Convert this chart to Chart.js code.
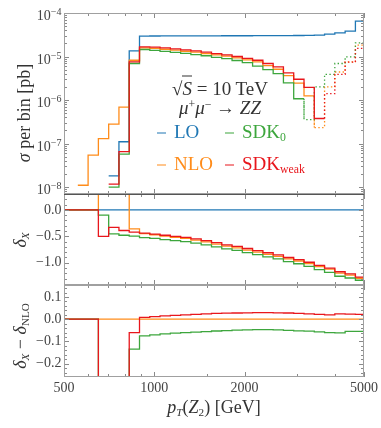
<!DOCTYPE html>
<html>
<head>
<meta charset="utf-8">
<title>pT(Z2) distribution</title>
<script src="https://cdn.jsdelivr.net/npm/chart.js@4.4.1/dist/chart.umd.min.js"></script>
<style>
  body { margin: 0; background: #fff; }
  #wrap { position: relative; width: 381px; height: 428px; overflow: hidden;
          font-family: "Liberation Serif", "DejaVu Serif", serif; color: #333; }
  #wrap canvas { position: absolute; left: 0; top: 0; }
  .t { position: absolute; white-space: nowrap; line-height: 1; transform: translate(-50%, -50%); }
  .r { transform: translate(-50%, -50%) rotate(-90deg); }
  .leg { position: absolute; white-space: nowrap; line-height: 1; font-size: 19px; transform: translateY(-50%); }
  .dash { display: inline-block; width: 9px; height: 1.6px; vertical-align: middle; margin-right: 8px; }
  .ov { border-top: 1.2px solid #333; padding-top: 1px; }
  sub { font-size: 62%; vertical-align: -0.3em; line-height: 0; }
  sup { font-size: 62%; vertical-align: 0.5em; line-height: 0; }
</style>
</head>
<body>
<div id="wrap">
  <canvas id="cSigma" width="381" height="428"></canvas>
  <canvas id="cDelta" width="381" height="428"></canvas>
  <canvas id="cDiff" width="381" height="428"></canvas>

  <div class="t r" style="left:24px;top:113px;font-size:18px"><i>σ</i> per bin [pb]</div>
  <div class="t r" style="left:20px;top:240px;font-size:18px"><i>δ</i><sub><i>X</i></sub></div>
  <div class="t r" style="left:20px;top:336px;font-size:18px"><i>δ</i><sub><i>X</i></sub> − <i>δ</i><sub>NLO</sub></div>
  <div class="t" style="left:214px;top:407px;font-size:18px"><i>p</i><sub><i>T</i></sub>(<i>Z</i><sub>2</sub>) [GeV]</div>

  <div class="t" style="left:220px;top:88px;font-size:19px">√<span class="ov"><i>S</i></span> = 10 TeV</div>
  <div class="t" style="left:220px;top:107px;font-size:19px"><i>μ</i><sup>+</sup><i>μ</i><sup>−</sup> → <i>ZZ</i></div>

  <div class="leg" style="left:157px;top:131px;color:#1f77b4"><span class="dash" style="background:#1f77b4"></span>LO</div>
  <div class="leg" style="left:225px;top:131px;color:#3da63d"><span class="dash" style="background:#3da63d"></span>SDK<sub>0</sub></div>
  <div class="leg" style="left:157px;top:163px;color:#ff8c1a"><span class="dash" style="background:#ff8c1a"></span>NLO</div>
  <div class="leg" style="left:225px;top:163px;color:#e8161c"><span class="dash" style="background:#e8161c"></span>SDK<sub>weak</sub></div>
</div>

<script>
// bin edges in pT(Z2) [GeV]
var binEdges = [474.8, 513.8, 556.0, 601.6, 651.0, 704.5, 762.3, 824.9, 892.6, 965.9,
  1045, 1131, 1224, 1324, 1433, 1551, 1678, 1816, 1965, 2126,
  2301, 2490, 2694, 2915, 3155, 3414, 3694, 3997, 4326, 4681, 5065];

// sigma per bin [pb], negative = drawn dotted as |value|
var sigmaLO = [0, 0, 0, 0, 0, 1.8e-8, 1.1e-7, 1.35e-5,
  2.95e-5, 2.96e-5, 2.97e-5, 2.97e-5, 2.98e-5, 2.98e-5, 2.99e-5, 2.99e-5, 3.0e-5, 3.0e-5, 3.0e-5,
  3.01e-5, 3.01e-5, 3.02e-5, 3.03e-5, 3.04e-5, 3.06e-5, 3.1e-5, 3.27e-5, 3.5e-5, 3.84e-5, 6.5e-5];
var sigmaNLO = [0, 0, 1.1e-8, 5.4e-8, 1.3e-7, 2.8e-7, 6.9e-7, 8.2e-6,
  1.58e-5, 1.54e-5, 1.47e-5, 1.40e-5, 1.32e-5, 1.26e-5, 1.17e-5, 1.09e-5, 1.02e-5, 9.3e-6, 8.4e-6,
  7.5e-6, 6.2e-6, 5.1e-6, 3.64e-6, 2.45e-6, 1.24e-6, -2.33e-7, -2.0e-6, -4.4e-6, -7.5e-6, -1.82e-5];
var sigmaSDK0 = [0, 0, 0, 0, 0, 1.0e-8, 5.7e-8, 6.9e-6,
  1.45e-5, 1.38e-5, 1.31e-5, 1.24e-5, 1.18e-5, 1.11e-5, 1.04e-5, 9.6e-6, 8.9e-6, 8.1e-6, 7.2e-6,
  6.0e-6, 5.0e-6, 4.05e-6, 2.48e-6, 1.07e-6, -3.56e-7, -2.0e-6, -3.9e-6, -6.9e-6, -9.8e-6, -2.06e-5];
var sigmaSDKweak = [0, 0, 0, 0, 0, 1.17e-8, 6.5e-8, 7.5e-6,
  1.67e-5, 1.64e-5, 1.58e-5, 1.50e-5, 1.42e-5, 1.35e-5, 1.26e-5, 1.17e-5, 1.09e-5, 1.0e-5, 9.1e-6,
  8.2e-6, 6.9e-6, 5.75e-6, 4.2e-6, 3.0e-6, 1.95e-6, 3.76e-7, -1.4e-6, -3.9e-6, -7.4e-6, -1.53e-5];

// relative corrections delta_X
var deltaLO = [0, 0, 0, 0, 0, 0, 0, 0, 0, 0, 0, 0, 0, 0, 0,
  0, 0, 0, 0, 0, 0, 0, 0, 0, 0, 0, 0, 0, 0, 0];
var deltaNLO = [0, 0, 0, 0, 20, 14.6, 5.3, -0.36,
  -0.45, -0.47, -0.495, -0.517, -0.54, -0.572, -0.604, -0.646, -0.687, -0.718, -0.759,
  -0.80, -0.84, -0.879, -0.928, -0.966, -1.014, -1.072, -1.12, -1.194, -1.233, -1.292];
var deltaSDK0 = [0, 0, 0, 0, -0.10, -0.455, -0.48, -0.495,
  -0.525, -0.54, -0.561, -0.58, -0.60, -0.63, -0.66, -0.699, -0.738, -0.767, -0.807,
  -0.847, -0.887, -0.927, -0.978, -1.018, -1.068, -1.129, -1.18, -1.255, -1.288, -1.33];
var deltaSDKweak = [0, 0, 0, 0, -0.50, -0.33, -0.39, -0.42,
  -0.44, -0.46, -0.48, -0.50, -0.52, -0.55, -0.58, -0.62, -0.66, -0.69, -0.73,
  -0.77, -0.81, -0.85, -0.90, -0.94, -0.99, -1.05, -1.10, -1.17, -1.21, -1.27];

// delta_X - delta_NLO
var diffNLO = [0, 0, 0, 0, 0, 0, 0, 0, 0, 0, 0, 0, 0, 0, 0,
  0, 0, 0, 0, 0, 0, 0, 0, 0, 0, 0, 0, 0, 0, 0];
var diffSDK0 = [0, 0, 0, 0, -20.1, -15.1, -5.8, -0.135,
  -0.075, -0.07, -0.066, -0.063, -0.06, -0.058, -0.056, -0.053, -0.051, -0.049, -0.048,
  -0.047, -0.047, -0.048, -0.05, -0.052, -0.054, -0.057, -0.06, -0.061, -0.055, -0.055];
var diffSDKweak = [0, 0, 0, 0, -20.5, -14.9, -5.7, -0.06,
  0.008, 0.012, 0.015, 0.017, 0.02, 0.022, 0.024, 0.026, 0.027, 0.028, 0.029,
  0.03, 0.03, 0.029, 0.028, 0.026, 0.024, 0.022, 0.02, 0.024, 0.023, 0.022];

// tick labels
var xTickLabels = [500, 1000, 2000, 5000];
var xMinorTicks = [600, 700, 800, 900, 1500, 3000, 4000];
var sigmaTicks = [1e-8, 1e-7, 1e-6, 1e-5, 1e-4];
var deltaTicks = [-1.0, -0.5, 0.0];
var diffTicks = [-0.2, -0.1, 0.0, 0.1];

var colors = { LO: '#1f77b4', NLO: '#ff8c1a', SDK0: '#3da63d', SDKweak: '#e8161c' };
// lower order is drawn on top: SDK_weak over SDK_0 over NLO over LO
var drawOrder = { LO: 4, NLO: 3, SDK0: 2, SDKweak: 1 };
var fontFam = '"Liberation Serif", "DejaVu Serif", serif';

function histPoints(vals, useAbs) {
  var pts = [];
  vals.forEach(function (v, i) {
    var y = useAbs ? Math.abs(v) : v;
    pts.push({ x: binEdges[i], y: y });
    pts.push({ x: binEdges[i + 1], y: y });
  });
  return pts;
}

// useAbs: log panel, negative bins shown as |value| with a dotted line
function histSet(vals, key, useAbs) {
  var ds = {
    data: histPoints(vals, useAbs),
    borderColor: colors[key],
    order: drawOrder[key],
    borderWidth: 1.3,
    pointRadius: 0,
    tension: 0,
    fill: false
  };
  if (useAbs) {
    ds.segment = {
      borderDash: function (ctx) {
        return vals[Math.floor(ctx.p1DataIndex / 2)] < 0 ? [1.4, 2.4] : undefined;
      }
    };
  }
  return ds;
}

function fmt(v) {
  return (v < 0 ? '\u2212' : '') + Math.abs(v).toFixed(1);
}

// frame + inward ticks, Mathematica style
var frameTicks = {
  id: 'frameTicks',
  afterDraw: function (chart, args, o) {
    var ctx = chart.ctx, a = chart.chartArea, x = chart.scales.x, y = chart.scales.y;
    ctx.save();
    ctx.strokeStyle = '#8a8a8a';
    ctx.lineWidth = 1;
    ctx.beginPath();
    function xt(v, len) {
      var px = Math.round(x.getPixelForValue(v)) + 0.5;
      ctx.moveTo(px, a.top); ctx.lineTo(px, a.top + len);
      ctx.moveTo(px, a.bottom); ctx.lineTo(px, a.bottom - len);
    }
    function yt(v, len) {
      var py = Math.round(y.getPixelForValue(v)) + 0.5;
      if (py < a.top || py > a.bottom) return;
      ctx.moveTo(a.left, py); ctx.lineTo(a.left + len, py);
      ctx.moveTo(a.right, py); ctx.lineTo(a.right - len, py);
    }
    xTickLabels.forEach(function (v) { xt(v, 5); });
    xMinorTicks.forEach(function (v) { xt(v, 3); });
    o.yMajor.forEach(function (v) { yt(v, 5); });
    o.yMinor.forEach(function (v) { yt(v, 3); });
    ctx.stroke();
    ctx.strokeStyle = '#a0a0a0';
    ctx.strokeRect(a.left + 0.5, a.top + 0.5, a.right - a.left - 1, a.bottom - a.top - 1);
    if (o.topLine) {
      ctx.strokeStyle = '#555';
      ctx.beginPath();
      ctx.moveTo(a.left, a.top + 0.5); ctx.lineTo(a.right, a.top + 0.5);
      ctx.stroke();
    }
    ctx.restore();
  }
};

// 10^n labels for the sigma panel
var expLabels = {
  id: 'expLabels',
  afterDraw: function (chart) {
    var ctx = chart.ctx, y = chart.scales.y;
    ctx.save();
    ctx.fillStyle = '#444';
    ctx.textAlign = 'right';
    ctx.textBaseline = 'alphabetic';
    sigmaTicks.forEach(function (v) {
      var py = y.getPixelForValue(v);
      var ex = '\u2212' + Math.round(-Math.log10(v));
      ctx.font = '10px ' + fontFam;
      var w = ctx.measureText(ex).width;
      ctx.fillText(ex, 61.5, py + 2);
      ctx.font = '14px ' + fontFam;
      ctx.fillText('10', 61.5 - w, py + 7);
    });
    ctx.restore();
  }
};

function xScale(show) {
  return {
    type: 'logarithmic', min: 500, max: 5000, display: show,
    grid: { display: false, drawTicks: false }, border: { display: false },
    afterBuildTicks: function (s) { s.ticks = xTickLabels.map(function (v) { return { value: v }; }); },
    afterFit: function (s) { if (show) s.height = 20; },
    ticks: { autoSkip: false, maxRotation: 0, padding: 3, color: '#444',
             font: { family: fontFam, size: 14 },
             callback: function (v) { return String(v); } }
  };
}

function yAxisBase() {
  return {
    grid: { display: false, drawTicks: false }, border: { display: false },
    afterFit: function (s) { s.width = 64; }
  };
}

function baseOptions(padTop, padBottom, xShow, yScale, tickOpts) {
  return {
    responsive: false, animation: false, events: [],
    layout: { padding: { top: padTop, bottom: padBottom, left: 0, right: 17 } },
    plugins: { legend: { display: false }, tooltip: { enabled: false }, frameTicks: tickOpts },
    scales: { x: xScale(xShow), y: yScale }
  };
}

// sigma panel
var sigmaMinor = [];
for (var d = -9; d <= -5; d++) for (var m = 2; m <= 9; m++) sigmaMinor.push(m * Math.pow(10, d));
var ySigma = Object.assign(yAxisBase(), {
  type: 'logarithmic', min: Math.pow(10, -8.16), max: 1e-4,
  ticks: { display: false }
});
new Chart('cSigma', {
  type: 'line',
  data: { datasets: [
    histSet(sigmaLO, 'LO', true),
    histSet(sigmaNLO, 'NLO', true),
    histSet(sigmaSDK0, 'SDK0', true),
    histSet(sigmaSDKweak, 'SDKweak', true)
  ] },
  options: baseOptions(13, 234, false, ySigma, { yMajor: sigmaTicks, yMinor: sigmaMinor }),
  plugins: [frameTicks, expLabels]
});

// delta panel
var deltaMinor = [];
for (var i = -14; i <= 2; i++) deltaMinor.push(i / 10);
var yDelta = Object.assign(yAxisBase(), {
  type: 'linear', min: -1.42, max: 0.3,
  afterBuildTicks: function (s) { s.ticks = deltaTicks.map(function (v) { return { value: v }; }); },
  ticks: { padding: 2.5, color: '#444', font: { family: fontFam, size: 14 }, callback: fmt }
});
new Chart('cDelta', {
  type: 'line',
  data: { datasets: [
    histSet(deltaLO, 'LO', false),
    histSet(deltaNLO, 'NLO', false),
    histSet(deltaSDK0, 'SDK0', false),
    histSet(deltaSDKweak, 'SDKweak', false)
  ] },
  options: baseOptions(194, 143, false, yDelta, { yMajor: deltaTicks, yMinor: deltaMinor, topLine: true }),
  plugins: [frameTicks]
});

// difference panel
var diffMinor = [];
for (var j = -13; j <= 7; j++) diffMinor.push(j / 50);
var yDiff = Object.assign(yAxisBase(), {
  type: 'linear', min: -0.26, max: 0.154,
  afterBuildTicks: function (s) { s.ticks = diffTicks.map(function (v) { return { value: v }; }); },
  ticks: { padding: 2.5, color: '#444', font: { family: fontFam, size: 14 }, callback: fmt }
});
new Chart('cDiff', {
  type: 'line',
  data: { datasets: [
    histSet(diffNLO, 'NLO', false),
    histSet(diffSDK0, 'SDK0', false),
    histSet(diffSDKweak, 'SDKweak', false)
  ] },
  options: baseOptions(285, 31, true, yDiff, { yMajor: diffTicks, yMinor: diffMinor }),
  plugins: [frameTicks]
});
</script>
</body>
</html>
